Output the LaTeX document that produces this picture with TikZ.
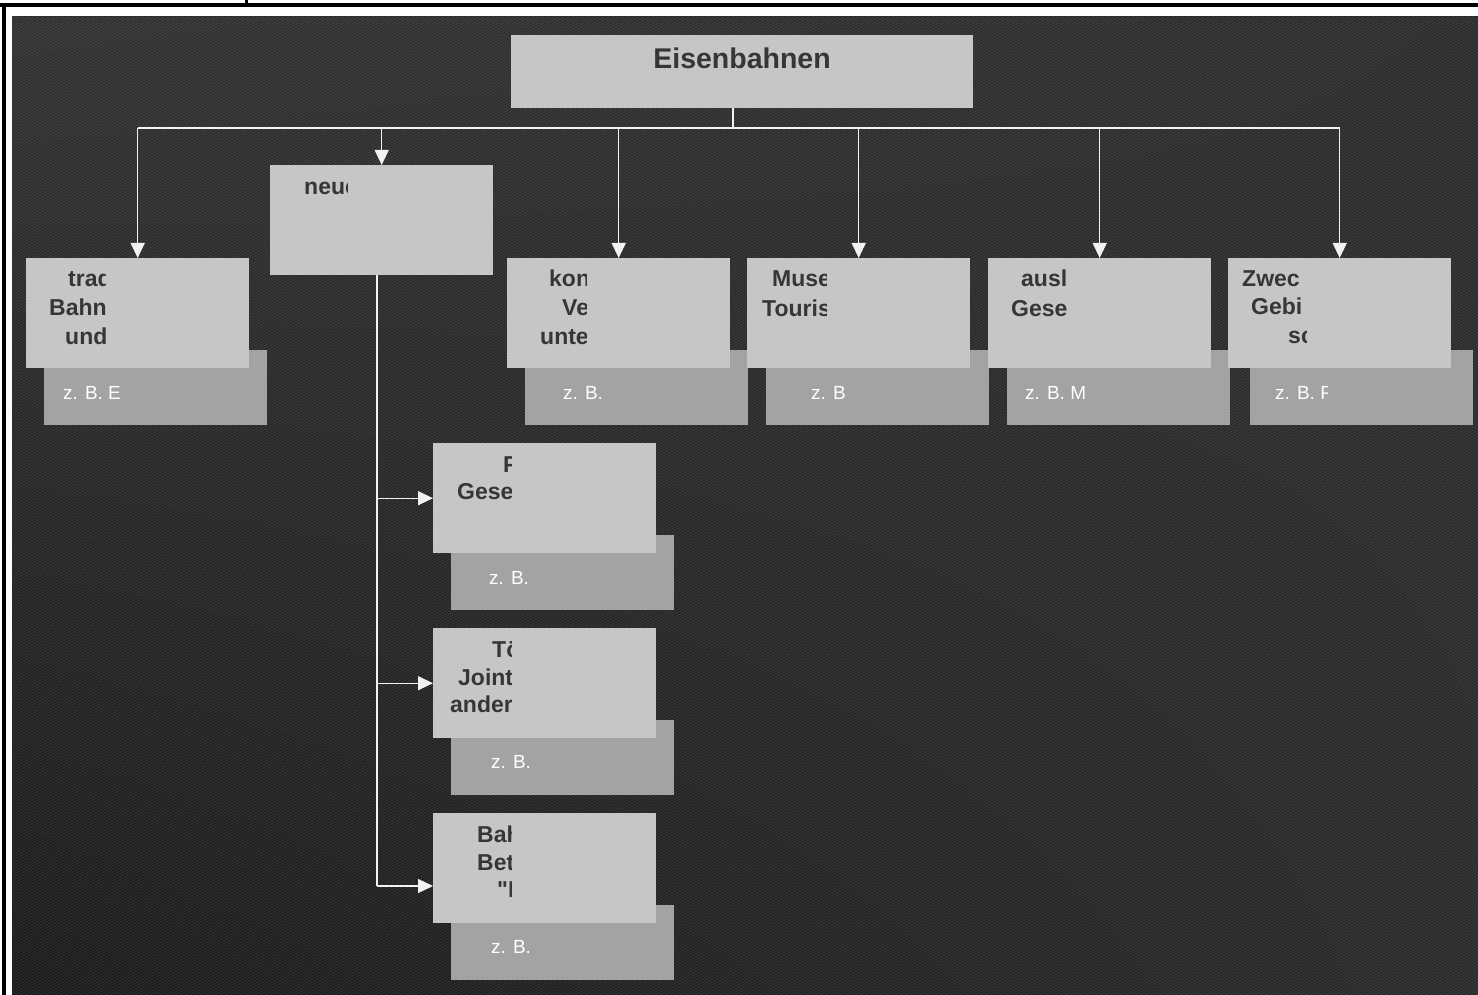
\documentclass[tikz,border=0pt]{standalone}
\usepackage{fontspec}
\setmainfont{Liberation Sans}
\usepackage{xcolor}
\usetikzlibrary{arrows.meta,shadings}

\definecolor{boxgray}{HTML}{C6C6C6}
\definecolor{notegray}{HTML}{A3A3A3}
\definecolor{textgray}{HTML}{363636}
\definecolor{linegray}{HTML}{F2F2F2}

\tikzset{
  box/.style={fill=boxgray, minimum width=223pt, minimum height=110pt, inner sep=0pt, anchor=north west},
  notebox/.style={fill=notegray, minimum width=223pt, minimum height=75pt, inner sep=0pt, anchor=north west},
  headtext/.style={anchor=base, inner sep=0pt, text=textgray, font=\fontsize{28.5}{34}\selectfont\bfseries},
  boxtext/.style={anchor=base west, inner sep=0pt, text=textgray, font=\fontsize{23}{27}\selectfont\bfseries},
  notetext/.style={anchor=base west, inner sep=0pt, text=white, font=\fontsize{19}{23}\selectfont},
  conn/.style={draw=linegray, line width=1.3pt},
  arr/.style={conn, -{Triangle[width=14pt,length=15pt]}},
  stripe/.style={white, opacity=0.11, line width=0.7pt}
}

\begin{document}
\begin{tikzpicture}[x=1pt,y=-1pt]
            \useasboundingbox (0,0) rectangle (1478,995);
            % Rahmen
            \fill[white] (0,0) rectangle (1478,995);
            \fill[black] (0,3) rectangle (1478,7);
            \fill[black] (245,0) rectangle (248,3);
            \fill[black] (2,3) rectangle (6,995);

            % Hintergrund
            \shade[upper left=black!81, upper right=black!83, lower left=black!90, lower right=black!84]
                (12,17) rectangle (1478,995);
            \begin{scope}
                \clip (12,17) rectangle (1478,995);
                \foreach \k in {-1700,-1695,...,1480}
                    \draw[stripe] (\k,995) -- ++(1694,-978);
            \end{scope}

            % Beispiel-Kaesten
            \node[notebox] (tradbsp) at (44,350) {};
            \node[notebox] (konbsp) at (525,350) {};
            \node[notebox] (musebsp) at (766,350) {};
            \node[notebox] (auslbsp) at (1007,350) {};
            \node[notebox] (zweckbsp) at (1250,350) {};
            \node[notebox] (privbsp) at (451,535) {};
            \node[notebox] (toechbsp) at (451,720) {};
            \node[notebox] (bahnbsp) at (451,905) {};

            % Hauptkaesten
            \node[box, minimum width=462pt, minimum height=73pt] (head) at (511,35) {};
            \node[box] (trad) at (26,258) {};
            \node[box] (neu) at (270,165) {};
            \node[box] (kon) at (507,258) {};
            \node[box] (muse) at (747,258) {};
            \node[box] (ausl) at (988,258) {};
            \node[box] (zweck) at (1228,258) {};
            \node[box] (priv) at (433,443) {};
            \node[box] (toech) at (433,628) {};
            \node[box] (bahn) at (433,813) {};

            % Verbindungen
            \coordinate (bus) at (733,128);
            \draw[conn] (bus |- head.south) -- (bus);
            \draw[conn] (trad.north |- bus) -- (zweck.north |- bus);
            \foreach \b in {trad,neu,kon,muse,ausl,zweck}
                \draw[arr] (\b.north |- bus) -- (\b.north);

            \coordinate (stem) at (377,886);
            \draw[conn] (neu.south -| stem) -- (stem);
            \draw[arr] (stem |- priv.west) -- (priv.west);
            \draw[arr] (stem |- toech.west) -- (toech.west);
            \draw[arr] (stem) -- (stem -| bahn.west);

            % Texte
            \node[headtext] (headt) at (742,69) {Eisenbahnen};

            \begin{scope}
                \clip (trad.north west) rectangle ([xshift=79pt]trad.south west);
                \node[boxtext] (trad1) at (68,287) {trad};
                \node[boxtext] (trad2) at (49,315) {Bahn};
                \node[boxtext] (trad3) at (65,344) {und};
            \end{scope}
            \begin{scope}
                \clip (neu.north west) rectangle ([xshift=77pt]neu.south west);
                \node[boxtext] (neu1) at (304,195) {neue};
            \end{scope}
            \begin{scope}
                \clip (kon.north west) rectangle ([xshift=79pt]kon.south west);
                \node[boxtext] (kon1) at (549,287) {kon};
                \node[boxtext] (kon2) at (562,315) {Ver};
                \node[boxtext] (kon3) at (540,344) {unte};
            \end{scope}
            \begin{scope}
                \clip (muse.north west) rectangle ([xshift=79pt]muse.south west);
                \node[boxtext] (muse1) at (772,287) {Muse};
                \node[boxtext] (muse2) at (762,316) {Touris};
            \end{scope}
            \begin{scope}
                \clip (ausl.north west) rectangle ([xshift=78pt]ausl.south west);
                \node[boxtext] (ausl1) at (1021,287) {ausl};
                \node[boxtext] (ausl2) at (1011,316) {Gese};
            \end{scope}
            \begin{scope}
                \clip (zweck.north west) rectangle ([xshift=78pt]zweck.south west);
                \node[boxtext] (zweck1) at (1242,286) {Zwec};
                \node[boxtext] (zweck2) at (1251,314) {Gebi};
                \node[boxtext] (zweck3) at (1288,343) {sc};
            \end{scope}
            \begin{scope}
                \clip (priv.north west) rectangle ([xshift=78pt]priv.south west);
                \node[boxtext] (priv1) at (503,472) {Pr};
                \node[boxtext] (priv2) at (457,499) {Gese};
            \end{scope}
            \begin{scope}
                \clip (toech.north west) rectangle ([xshift=78pt]toech.south west);
                \node[boxtext] (toech1) at (492,657) {Tö};
                \node[boxtext] (toech2) at (458,685) {Joint};
                \node[boxtext] (toech3) at (450,712) {ander};
            \end{scope}
            \begin{scope}
                \clip (bahn.north west) rectangle ([xshift=78pt]bahn.south west);
                \node[boxtext] (bahn1) at (477,842) {Bah};
                \node[boxtext] (bahn2) at (477,870) {Bet};
                \node[boxtext] (bahn3) at (497,897) {\addfontfeatures{Ligatures=TeXOff}"I};
            \end{scope}

            % Beispiel-Texte
            \begin{scope}
                \clip (tradbsp.north west) rectangle ([xshift=79pt]tradbsp.south west);
                \node[notetext] (tradz) at (63,399) {z. B. E};
            \end{scope}
            \begin{scope}
                \clip (konbsp.north west) rectangle ([xshift=79pt]konbsp.south west);
                \node[notetext] (konz) at (563,399) {z. B.};
            \end{scope}
            \begin{scope}
                \clip (musebsp.north west) rectangle ([xshift=78pt]musebsp.south west);
                \node[notetext] (musez) at (811,399) {z. B.};
            \end{scope}
            \begin{scope}
                \clip (auslbsp.north west) rectangle ([xshift=78pt]auslbsp.south west);
                \node[notetext] (auslz) at (1025,399) {z. B. M};
            \end{scope}
            \begin{scope}
                \clip (zweckbsp.north west) rectangle ([xshift=77pt]zweckbsp.south west);
                \node[notetext] (zweckz) at (1275,399) {z. B. P};
            \end{scope}
            \node[notetext] (privz) at (489,584) {z. B.};
            \node[notetext] (toechz) at (491,768) {z. B.};
            \node[notetext] (bahnz) at (491,953) {z. B.};
\end{tikzpicture}
\end{document}
